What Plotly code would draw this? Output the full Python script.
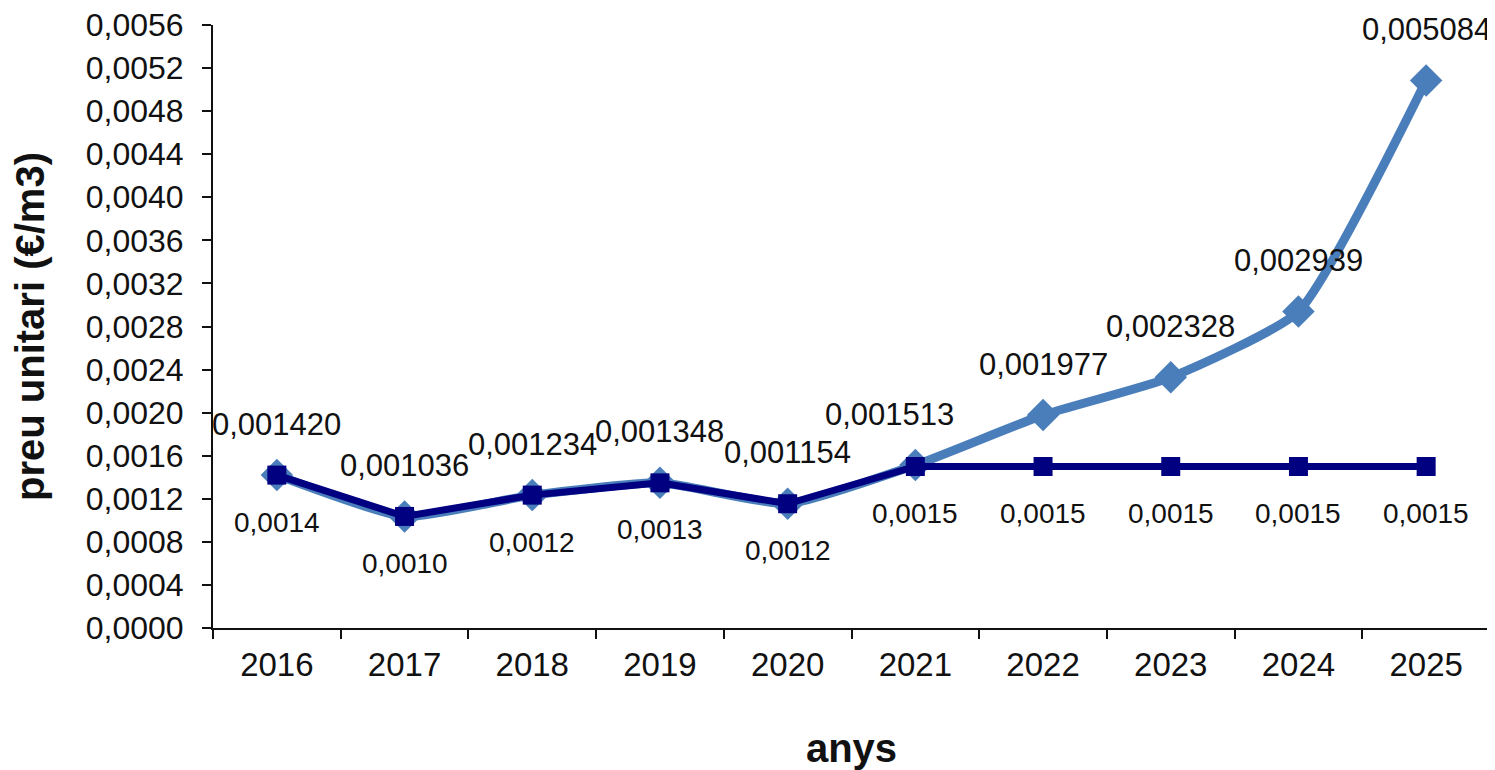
import plotly.graph_objects as go

anys = ['2016', '2017', '2018', '2019', '2020', '2021', '2022', '2023', '2024', '2025']
preu_tendencia = [0.001420, 0.001036, 0.001234, 0.001348, 0.001154,
                  0.001513, 0.001977, 0.002328, 0.002939, 0.005084]
preu_constant = [0.001420, 0.001036, 0.001234, 0.001348, 0.001154,
                 0.0015, 0.0015, 0.0015, 0.0015, 0.0015]

y_ticks = [0.0000, 0.0004, 0.0008, 0.0012, 0.0016, 0.0020, 0.0024, 0.0028,
           0.0032, 0.0036, 0.0040, 0.0044, 0.0048, 0.0052, 0.0056]

BLAU_CLAR = '#4a7ebb'
BLAU_FOSC = '#000080'
FONT = 'Liberation Sans, Arial, sans-serif'


def fmt(v, dec):
    return f'{v:.{dec}f}'.replace('.', ',')


def main():
    fig = go.Figure()

    fig.add_trace(go.Scatter(
        x=anys, y=preu_tendencia, mode='lines+markers',
        line=dict(color=BLAU_CLAR, width=9, shape='spline', smoothing=0.5),
        marker=dict(symbol='diamond', size=25, color=BLAU_CLAR),
        showlegend=False,
    ))
    fig.add_trace(go.Scatter(
        x=anys, y=preu_constant, mode='lines+markers',
        line=dict(color=BLAU_FOSC, width=7),
        marker=dict(symbol='square', size=19, color=BLAU_FOSC),
        showlegend=False,
    ))

    # etiquetes de dades (x com a index de categoria)
    for i, (a, v) in enumerate(zip(anys, preu_tendencia)):
        fig.add_annotation(
            x=i, y=v, text=fmt(v, 6), showarrow=False,
            xshift=-26 if a == '2021' else 0, yshift=51,
            font=dict(family=FONT, size=31, color='#111111'),
        )
    for i, v in enumerate(preu_constant):
        fig.add_annotation(
            x=i, y=v, text=fmt(v, 4), showarrow=False, yshift=-47,
            font=dict(family=FONT, size=28, color='#111111'),
        )

    # la pagina te 8px de marge al body
    fig.update_layout(
        width=1487, height=762,
        margin=dict(l=205, r=5, t=17, b=142),
        paper_bgcolor='white', plot_bgcolor='white',
        separators=',.',
        font=dict(family=FONT, color='#111111'),
    )
    fig.update_xaxes(
        type='category', range=[-0.5, 9.5], tickson='boundaries',
        ticks='outside', ticklen=9, tickwidth=2, tickcolor='#111111',
        showline=True, linecolor='#111111', linewidth=2, showgrid=False,
        automargin=False, ticklabelstandoff=6,
        tickfont=dict(family=FONT, size=33, color='#111111'),
        title=dict(text='<b>anys</b>', standoff=54,
                   font=dict(family=FONT, size=40, color='#111111')),
    )
    fig.update_yaxes(
        range=[0, 0.0056000001], tickvals=y_ticks, tickformat='.4f',
        ticks='outside', ticklen=9, tickwidth=2, tickcolor='#111111',
        showline=True, linecolor='#111111', linewidth=2, showgrid=False,
        zeroline=False, automargin=False, ticklabelstandoff=12,
        ticklabeloverflow='allow',
        tickfont=dict(family=FONT, size=32, color='#111111'),
        title=dict(text='<b>preu unitari (€/m3)</b>', standoff=40,
                   font=dict(family=FONT, size=40, color='#111111')),
    )

    fig.write_html('out.html')


if __name__ == '__main__':
    main()
